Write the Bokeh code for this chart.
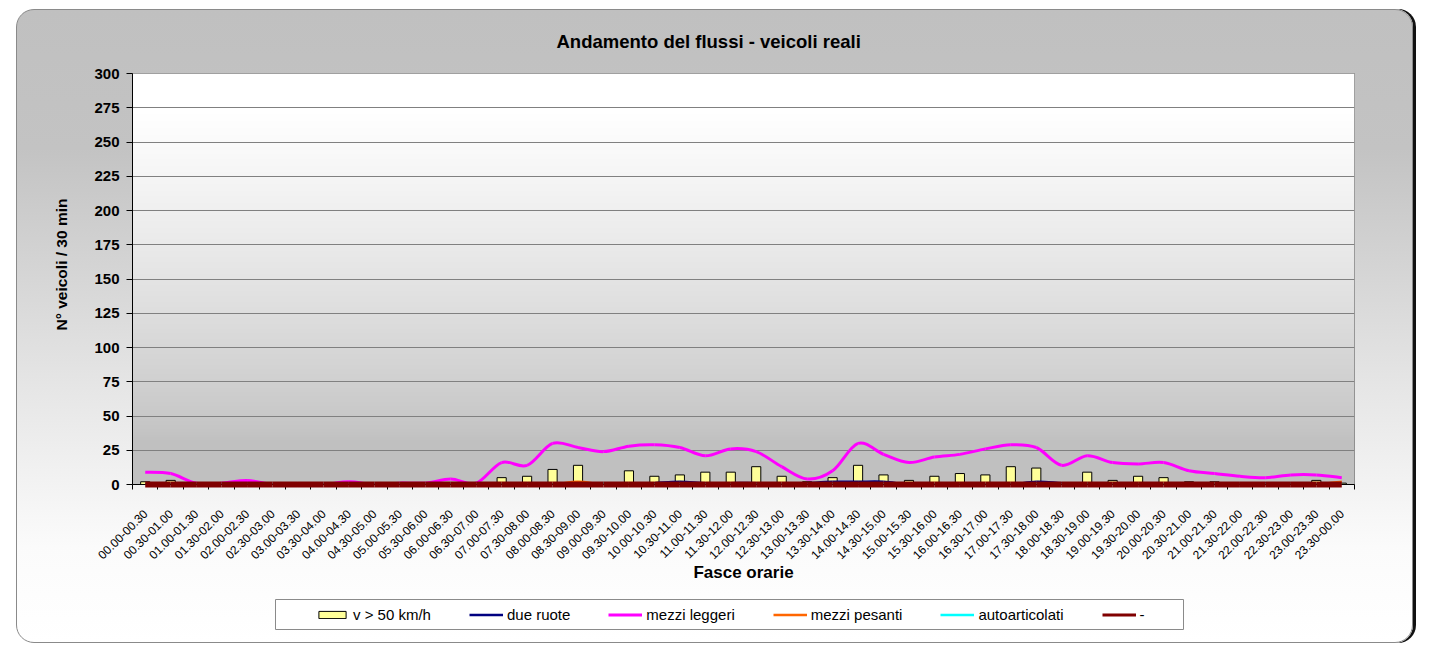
import numpy as np
from math import pi
from bokeh.plotting import figure
from bokeh.layouts import column
from bokeh.models import (ColumnDataSource, FixedTicker, Legend, LegendItem, Range1d,
                          CustomJSTickFormatter, BoxAnnotation, Title)
from bokeh.embed import file_html
from bokeh.resources import INLINE

fasce = ["00.00-00.30", "00.30-01.00", "01.00-01.30", "01.30-02.00", "02.00-02.30", "02.30-03.00",
         "03.00-03.30", "03.30-04.00", "04.00-04.30", "04.30-05.00", "05.00-05.30", "05.30-06.00",
         "06.00-06.30", "06.30-07.00", "07.00-07.30", "07.30-08.00", "08.00-08.30", "08.30-09.00",
         "09.00-09.30", "09.30-10.00", "10.00-10.30", "10.30-11.00", "11.00-11.30", "11.30-12.00",
         "12.00-12.30", "12.30-13.00", "13.00-13.30", "13.30-14.00", "14.00-14.30", "14.30-15.00",
         "15.00-15.30", "15.30-16.00", "16.00-16.30", "16.30-17.00", "17.00-17.30", "17.30-18.00",
         "18.00-18.30", "18.30-19.00", "19.00-19.30", "19.30-20.00", "20.00-20.30", "20.30-21.00",
         "21.00-21.30", "21.30-22.00", "22.00-22.30", "22.30-23.00", "23.00-23.30", "23.30-00.00"]

v50 = [2, 3, 0, 0, 1, 0, 0, 0, 0, 0, 0, 0, 0, 0, 5, 6, 11, 14, 0, 10, 6, 7, 9, 9,
       13, 6, 2, 5, 14, 7, 3, 6, 8, 7, 13, 12, 0, 9, 3, 6, 5, 2, 2, 0, 0, 1, 3, 1]
due_ruote = [0, 0, 0, 0, 0, 0, 0, 0, 0, 0, 0, 0, 0, 0, 0, 1, 0, 0, 0, 0, 1, 2, 1, 1,
             1, 0, 1, 2, 2, 2, 0, 0, 1, 0, 0, 2, 1, 0, 0, 0, 0, 0, 0, 0, 1, 0, 0, 0]
mezzi_leggeri = [9, 8, 1, 1, 3, 0, 0, 0, 2, 0, 1, 1, 4, 1, 16, 14, 30, 27, 24, 28, 29, 27, 21, 26,
                 24, 13, 4, 10, 30, 22, 16, 20, 22, 26, 29, 27, 14, 21, 16, 15, 16, 10, 8, 6, 5, 7, 7, 5]
mezzi_pesanti = [0, 0, 0, 0, 0, 0, 1, 0, 0, 0, 0, 0, 0, 1, 0, 0, 0, 2, 0, 0, 0, 0, 0, 1,
                 0, 0, 0, 0, 0, 0, 0, 0, 1, 0, 0, 0, 0, 0, 1, 0, 0, 0, 0, 0, 0, 0, 0, 2]
autoarticolati = [0, 0, 0, 0, 0, 0, 0, 0, 0, 0, 0, 0, 0, 0, 0, 0, 0, 0, 1, 0, 0, 0, 0, 0,
                  0, 0, 0, 0, 0, 0, 0, 0, 0, 0, 0, 0, 0, 1, 0, 0, 0, 0, 0, 0, 0, 0, 0, 0]
trattino = [0] * 48

y_ticks = [0, 25, 50, 75, 100, 125, 150, 175, 200, 225, 250, 275, 300]

FONT = "Liberation Sans"
BAR_FILL = "#FFFF99"
n = len(fasce)
xs = list(range(n))

W = 1395
H_MAIN = 585
H_LEG = 47

p = figure(width=W, height=H_MAIN, output_backend="svg", toolbar_location=None,
           x_range=Range1d(-0.5, n - 0.5), y_range=Range1d(0, 300),
           min_border_left=115, min_border_right=58, min_border_top=63, min_border_bottom=111,
           title="Andamento del flussi - veicoli reali")
p.border_fill_alpha = 0
p.background_fill_alpha = 0
p.outline_line_color = "#808080"

p.title.align = "left"
p.title.vertical_align = "top"
p.title.offset = 424
p.title.text_font = FONT
p.title.text_font_size = "18.5px"
p.title.text_font_style = "bold"
p.title.text_color = "black"
p.title.standoff = 40

# plot-area gradient background (white at top, grey at bottom)
rows = 300
t = np.linspace(0, 1, rows)
g = (192 + 63 * np.clip((t - 0.1) / 0.8, 0, 1) ** 0.8).astype(np.uint8)
img = np.zeros((rows, 1), dtype=np.uint32)
view = img.view(dtype=np.uint8).reshape((rows, 1, 4))
view[:, 0, 0] = g
view[:, 0, 1] = g
view[:, 0, 2] = g
view[:, 0, 3] = 255
p.image_rgba(image=[img], x=-0.5, y=0, dw=n, dh=300, level="image")

# grid
p.xgrid.visible = False
p.ygrid.ticker = FixedTicker(ticks=y_ticks)
p.ygrid.grid_line_color = "#808080"
p.ygrid.grid_line_width = 1

# y axis
p.yaxis.ticker = FixedTicker(ticks=y_ticks)
p.yaxis.axis_line_color = "black"
p.yaxis.major_tick_line_color = "black"
p.yaxis.major_tick_out = 6
p.yaxis.major_tick_in = 0
p.yaxis.minor_tick_line_color = None
p.yaxis.major_label_text_font = FONT
p.yaxis.major_label_text_font_size = "15px"
p.yaxis.major_label_text_font_style = "bold"
p.yaxis.major_label_text_color = "black"
p.yaxis.major_label_standoff = 7

ylab = Title(text="N° veicoli / 30 min", align="left", offset=154, standoff=44,
             text_font=FONT, text_font_size="15.5px", text_font_style="bold", text_color="black")
p.add_layout(ylab, "left")

# x axis
p.xaxis.ticker = FixedTicker(ticks=xs, minor_ticks=[i - 0.5 for i in range(n + 1)])
p.xaxis.formatter = CustomJSTickFormatter(args=dict(labels=fasce),
                                          code="const i = Math.round(tick); return (i >= 0 && i < labels.length) ? labels[i] : '';")
p.xaxis.axis_line_color = "black"
p.xaxis.major_tick_line_color = None
p.xaxis.major_tick_out = 0
p.xaxis.major_tick_in = 0
p.xaxis.minor_tick_line_color = "black"
p.xaxis.minor_tick_out = 5
p.xaxis.minor_tick_in = 0
p.xaxis.major_label_orientation = pi / 4
p.xaxis.major_label_text_font = FONT
p.xaxis.major_label_text_font_size = "12px"
p.xaxis.major_label_text_color = "black"
p.xaxis.major_label_standoff = 22
p.xaxis.axis_label = "Fasce orarie"
p.xaxis.axis_label_text_font = FONT
p.xaxis.axis_label_text_font_size = "17px"
p.xaxis.axis_label_text_font_style = "bold"
p.xaxis.axis_label_text_color = "black"
p.xaxis.axis_label_standoff = -3

# bars
src = ColumnDataSource(dict(x=xs, v50=v50))
p.vbar(x="x", top="v50", width=0.36, source=src,
       fill_color=BAR_FILL, line_color="black", line_width=1)


def smooth(xv, yv):
    """Bezier segments through the data points (Excel-like smoothed line)."""
    xv = np.asarray(xv, dtype=float)
    yv = np.asarray(yv, dtype=float)
    xp = np.concatenate([[xv[0]], xv, [xv[-1]]])
    yp = np.concatenate([[yv[0]], yv, [yv[-1]]])
    k = 1.0 / 6.0
    x0, y0 = xv[:-1], yv[:-1]
    x1, y1 = xv[1:], yv[1:]
    cx0 = x0 + (xp[2:-1] - xp[:-3]) * k
    cy0 = y0 + (yp[2:-1] - yp[:-3]) * k
    cx1 = x1 - (xp[3:] - xp[1:-2]) * k
    cy1 = y1 - (yp[3:] - yp[1:-2]) * k
    return ColumnDataSource(dict(x0=x0, y0=y0, x1=x1, y1=y1, cx0=cx0, cy0=cy0, cx1=cx1, cy1=cy1))


series = [
    ("due ruote", due_ruote, "#000080", 2.5),
    ("mezzi leggeri", mezzi_leggeri, "#FF00FF", 3),
    ("mezzi pesanti", mezzi_pesanti, "#FF6600", 2.5),
    ("autoarticolati", autoarticolati, "#00FFFF", 2.5),
    ("-", trattino, "#800000", 3),
]

for name, vals, col, lw in series:
    if name == "-":
        p.bezier(x0="x0", y0="y0", x1="x1", y1="y1", cx0="cx0", cy0="cy0", cx1="cx1", cy1="cy1",
                 source=smooth(xs, vals), line_color=col, line_width=6, level="overlay")
    else:
        p.bezier(x0="x0", y0="y0", x1="x1", y1="y1", cx0="cx0", cy0="cy0", cx1="cx1", cy1="cy1",
                 source=smooth(xs, vals), line_color=col, line_width=lw)

# legend strip (separate transparent figure below the chart)
lf = figure(width=W, height=H_LEG, output_backend="svg", toolbar_location=None,
            x_range=Range1d(0, 10), y_range=Range1d(0, 10), min_border=0,
            x_axis_location=None, y_axis_location=None)
lf.grid.visible = False
lf.outline_line_color = None
lf.border_fill_alpha = 0
lf.background_fill_alpha = 0

box = BoxAnnotation(left=143, right=1051, top=43, bottom=13,
                    left_units="screen", right_units="screen", top_units="screen", bottom_units="screen",
                    fill_color="white", fill_alpha=1, line_color="#8a8a8a", line_width=1, line_alpha=1)
lf.add_layout(box)

leg_bar = lf.vbar(x=[-5], top=[-5], bottom=[-6], width=0.36,
                  fill_color=BAR_FILL, line_color="black", line_width=1)
items = [LegendItem(label="v > 50 km/h", renderers=[leg_bar])]
for name, vals, col, lw in series:
    r = lf.line(x=[-5, -4], y=[-5, -5], line_color=col, line_width=lw)
    items.append(LegendItem(label=name, renderers=[r]))

legend = Legend(items=items, orientation="horizontal", location=(177, 13),
                glyph_width=34, glyph_height=9, label_standoff=4, spacing=38,
                padding=6, margin=0, border_line_alpha=0, background_fill_alpha=0,
                label_text_font=FONT, label_text_font_size="15px", label_text_color="black")
lf.add_layout(legend, "center")

layout = column(p, lf, spacing=0)
layout.margin = (9, 0, 0, 16)
layout.styles = {
    "background": "linear-gradient(to bottom, #c0c0c0 0%, #c3c3c3 22%, #e6e6e6 60%, #fbfbfb 85%, #ffffff 100%)",
    "border": "1px solid #8a8a8a",
    "border-radius": "18px",
    "box-shadow": "3px 0px 0px #111111",
}

open("out.html", "w").write(file_html(layout, INLINE))
